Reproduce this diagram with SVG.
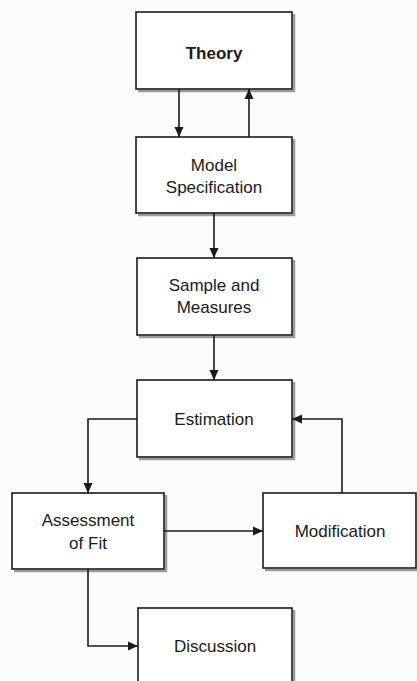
<svg xmlns="http://www.w3.org/2000/svg" width="417" height="681" viewBox="0 0 417 681">
  <defs>
    <marker id="arrow" viewBox="0 0 10 10" refX="10" refY="5" markerWidth="10" markerHeight="10" markerUnits="userSpaceOnUse" orient="auto">
      <path d="M0,0.5 L10,5 L0,9.5 Z" fill="#1a1a1a"/>
    </marker>
  </defs>
  <style>
    .box { fill: #ffffff; stroke: #1a1a1a; stroke-width: 1.6; }
    .shadow { fill: none; stroke: #9a9a9a; stroke-width: 2.5; }
    .label { font-family: "Liberation Sans", Arial, sans-serif; font-size: 17px; fill: #1a1a1a; text-anchor: middle; }
    .bold { font-weight: bold; }
    .conn { fill: none; stroke: #1a1a1a; stroke-width: 1.6; marker-end: url(#arrow); }
  </style>
  <rect width="417" height="681" fill="#fcfcfc"/>

  <g id="theory">
    <path class="shadow" d="M294,14 V91 H138"/>
    <rect class="box" x="136" y="12" width="156" height="77"/>
    <text class="label bold" x="214" y="59">Theory</text>
  </g>

  <g id="model-specification">
    <path class="shadow" d="M294,139 V215 H138"/>
    <rect class="box" x="136" y="137" width="156" height="76"/>
    <text class="label" x="214" y="171">Model</text>
    <text class="label" x="214" y="193">Specification</text>
  </g>

  <g id="sample-measures">
    <path class="shadow" d="M294,260 V337 H139"/>
    <rect class="box" x="137" y="258" width="155" height="77"/>
    <text class="label" x="214" y="291">Sample and</text>
    <text class="label" x="214" y="313">Measures</text>
  </g>

  <g id="estimation">
    <path class="shadow" d="M294,382 V459 H139"/>
    <rect class="box" x="137" y="380" width="155" height="77"/>
    <text class="label" x="214" y="425">Estimation</text>
  </g>

  <g id="assessment-of-fit">
    <path class="shadow" d="M166,495 V571 H14"/>
    <rect class="box" x="12" y="493" width="152" height="76"/>
    <text class="label" x="88" y="526">Assessment</text>
    <text class="label" x="88" y="549">of Fit</text>
  </g>

  <g id="modification">
    <path class="shadow" d="M265,570 H417"/>
    <rect class="box" x="263" y="493" width="153" height="75"/>
    <text class="label" x="340" y="537">Modification</text>
  </g>

  <g id="discussion">
    <path class="shadow" d="M294,610 V681"/>
    <rect class="box" x="138" y="608" width="154" height="80"/>
    <text class="label" x="215" y="652">Discussion</text>
  </g>

  <g id="connectors">
    <path class="conn" d="M179,89 V137"/>
    <path class="conn" d="M249,137 V89"/>
    <path class="conn" d="M214,213 V258"/>
    <path class="conn" d="M214,335 V380"/>
    <path class="conn" d="M137,419 H88 V493"/>
    <path class="conn" d="M164,531 H263"/>
    <path class="conn" d="M342,493 V419 H292"/>
    <path class="conn" d="M88,569 V646 H138"/>
  </g>
</svg>
